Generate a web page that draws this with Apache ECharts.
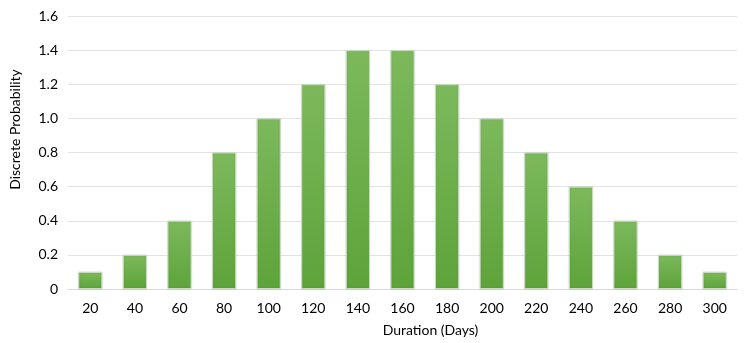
<!DOCTYPE html>
<html>
<head>
<meta charset="utf-8">
<script src="https://cdn.jsdelivr.net/npm/echarts@6/dist/echarts.min.js"></script>
<style>
  html, body { margin: 0; padding: 0; background: #fff; }
  #chart { width: 745px; height: 343px; }
</style>
</head>
<body>
<div id="chart"></div>
<script>
// Duration buckets (days) and their discrete probabilities
const durations = ['20', '40', '60', '80', '100', '120', '140', '160', '180', '200', '220', '240', '260', '280', '300'];
const probabilities = [0.1, 0.2, 0.4, 0.8, 1.0, 1.2, 1.4, 1.4, 1.2, 1.0, 0.8, 0.6, 0.4, 0.2, 0.1];

const fontFamily = 'Lato, "Open Sans", sans-serif';
const textColor = '#000';
const chart = echarts.init(document.getElementById('chart'));

chart.setOption({
  animation: false,
  grid: { left: 66, right: 8, top: 16, bottom: 54 },
  xAxis: {
    type: 'category',
    data: durations,
    name: 'Duration (Days)',
    nameLocation: 'middle',
    nameGap: 34,
    nameTextStyle: { color: textColor, fontSize: 14, fontFamily, padding: [0, 0, 0, 56] },
    axisLine: { lineStyle: { color: '#d9d9d9' } },
    axisTick: { show: false },
    axisLabel: { color: textColor, fontSize: 14, fontFamily, margin: 12 }
  },
  yAxis: {
    type: 'value',
    min: 0,
    max: 1.6,
    interval: 0.2,
    name: 'Discrete Probability',
    nameLocation: 'middle',
    nameGap: 46,
    nameTextStyle: { color: textColor, fontSize: 14, fontFamily, padding: [0, 0, 0, 46] },
    axisLine: { show: false },
    axisTick: { show: false },
    splitLine: { lineStyle: { color: '#e3e3e3' } },
    axisLabel: {
      color: textColor, fontSize: 14, fontFamily, margin: 10,
      formatter: v => (v === 0 ? '0' : v.toFixed(1))
    }
  },
  series: [{
    type: 'bar',
    data: probabilities,
    barWidth: '54%',
    itemStyle: {
      color: new echarts.graphic.LinearGradient(0, 0, 0, 1, [
        { offset: 0, color: '#7cb95c' },
        { offset: 1, color: '#5ea33a' }
      ]),
      borderColor: '#c9dcbf',
      borderWidth: 1,
      shadowColor: 'rgba(0,0,0,0.12)',
      shadowBlur: 2
    }
  }]
});
</script>
</body>
</html>
